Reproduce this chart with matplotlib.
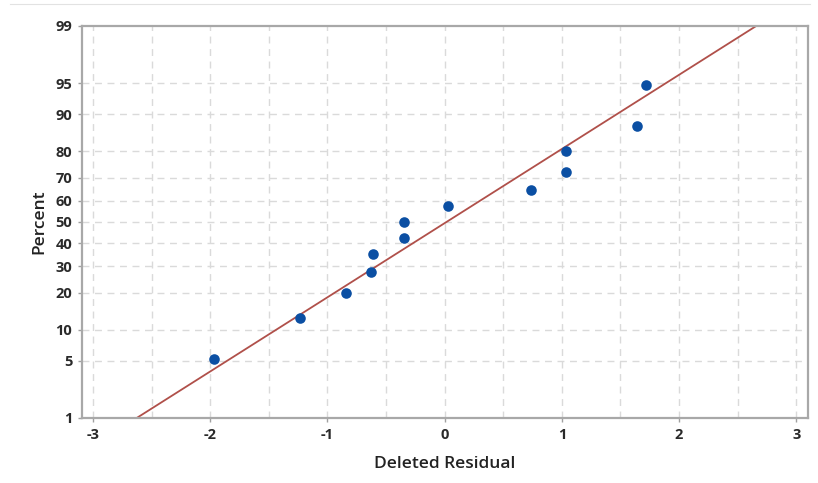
import numpy as np
import matplotlib
matplotlib.use("Agg")
import matplotlib.pyplot as plt
from matplotlib.lines import Line2D
from statistics import NormalDist

# Data
residuals = [-1.97, -1.23, -0.84, -0.63, -0.61, -0.35, -0.35, 0.03, 0.735, 1.033, 1.036, 1.64, 1.72]
percents = [5.2, 12.7, 20.1, 27.6, 35.1, 42.5, 50.0, 57.5, 64.9, 72.4, 79.9, 87.3, 94.8]
fit_x = [-2.627, 2.658]
fit_pct = [1, 99]
x_ticks = [-3, -2, -1, 0, 1, 2, 3]
y_ticks = [1, 5, 10, 20, 30, 40, 50, 60, 70, 80, 90, 95, 99]

_nd = NormalDist()

def fwd(p):
    p = np.clip(np.asarray(p, dtype=float), 1e-6, 100 - 1e-6)
    return np.vectorize(lambda v: _nd.inv_cdf(v / 100.0), otypes=[float])(p)

def inv(z):
    z = np.asarray(z, dtype=float)
    return np.vectorize(lambda v: 100.0 * _nd.cdf(v), otypes=[float])(z)

plt.rcParams['font.family'] = ['Open Sans', 'DejaVu Sans']

fig = plt.figure(figsize=(8.18, 4.83), dpi=100)
ax = fig.add_axes([0.1002, 0.1346, 0.8876, 0.8116])
ax.set_yscale('function', functions=(fwd, inv))
ax.set_ylim(1, 99)
ax.set_xlim(-3.094, 3.1)

# grid
grid_c = '#DADADA'
for gx in np.arange(-3, 3.01, 0.5):
    ax.axvline(gx, color=grid_c, lw=1.0, ls=(0, (5, 4)), zorder=0)
for gy in y_ticks[1:-1]:
    ax.axhline(gy, color=grid_c, lw=1.0, ls=(0, (5, 4)), zorder=0)

ax.plot(fit_x, fit_pct, color='#B0504A', lw=1.3, zorder=2)
ax.scatter(residuals, percents, s=58, color='#0B4FA3', zorder=3, linewidths=0)

ax.set_xticks(x_ticks)
ax.set_xticklabels([str(t) for t in x_ticks])
ax.set_yticks(y_ticks)
ax.set_yticklabels([str(t) for t in y_ticks])
ax.minorticks_off()
ax.tick_params(axis='both', colors='#A0A0A0', length=3, width=1, labelsize=10.5, labelcolor='#2A2A2A', pad=4)
for t in ax.get_xticklabels() + ax.get_yticklabels():
    t.set_fontweight('bold')

for s in ax.spines.values():
    s.set_color('#A8A8A8')
    s.set_linewidth(1.6)

ax.set_xlabel('Deleted Residual', fontsize=12.5, color='#222222', labelpad=10, fontweight='semibold')
ax.set_ylabel('Percent', fontsize=12.5, color='#222222', labelpad=6, fontweight='semibold')

fig.add_artist(Line2D([0.012, 0.99], [0.991, 0.991], color='#E2E2E2', lw=0.8, transform=fig.transFigure))

fig.savefig('out.png', dpi=100)
